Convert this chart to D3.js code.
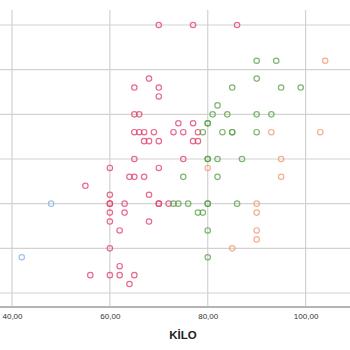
<!DOCTYPE html>
<html>
<head>
<meta charset="utf-8">
<script src="https://cdn.jsdelivr.net/npm/d3@7"></script>
<style>
  html, body { margin: 0; padding: 0; background: #fff; }
  svg { display: block; }
</style>
</head>
<body>
<script>
// Weight (kg) vs. height, one series per group colour
const pinkKilo = [70,77,86,68,65,70,70,65,66,74,77,65,66,67,69,73,75,78,67,68,70,77,78,65,75,60,70,55,64,65,67,60,68,60,60,63,70,70,72,60,63,60,68,62,60,62,56,60,62,65,64];
const pinkBoy  = [180,180,180,174,173,173,172,170,170,169,169,168,168,168,168,168,168,168,167,167,167,167,167,165,165,164,164,162,163,163,163,161,161,160,160,160,160,160,160,159,159,158,158,157,155,153,152,152,152,152,151];

const greenKilo = [90,94,90,85,95,99,82,81,84,90,93,80,80,79,83,85,85,90,80,80,82,87,75,82,73,74,76,80,80,86,78,79,80,80];
const greenBoy  = [176,176,174,173,173,173,171,170,170,170,170,169,169,168,168,168,168,168,165,165,165,165,163,163,160,160,160,160,160,160,159,159,157,154];

const orangeKilo = [104,93,103,95,80,95,90,90,90,90,85];
const orangeBoy  = [176,168,168,165,164,163,160,159,157,156,155];

const blueKilo = [48,42];
const blueBoy  = [160,154];

const xTicks = [40, 60, 80, 100];
const yTicks = [150, 155, 160, 165, 170, 175, 180];
const xTitle = "KİLO";

const W = 350, H = 350;
const plot = { left: 0, right: 350, top: 10, bottom: 307 };

const svg = d3.select("body").append("svg")
  .attr("width", W).attr("height", H);

const x = d3.scaleLinear().domain([40, 100]).range([12, 305.6]);
const y = d3.scaleLinear().domain([150, 180]).range([293, 25]);

// grid
const grid = svg.append("g");
grid.selectAll("line.h").data(yTicks).join("line")
  .attr("x1", plot.left).attr("x2", plot.right)
  .attr("y1", d => y(d)).attr("y2", d => y(d))
  .attr("stroke", "#d2d2d2").attr("stroke-width", 1.2);
grid.selectAll("line.v").data(xTicks).join("line")
  .attr("y1", plot.top).attr("y2", plot.bottom)
  .attr("x1", d => x(d)).attr("x2", d => x(d))
  .attr("stroke", "#d2d2d2").attr("stroke-width", 1.2);

// x axis
const xAxis = d3.axisBottom(x)
  .tickValues(xTicks)
  .tickSize(0)
  .tickPadding(6)
  .tickFormat(d => d3.format(".2f")(d).replace(".", ","));
const ax = svg.append("g")
  .attr("transform", `translate(0,${plot.bottom})`)
  .call(xAxis);
ax.select(".domain").remove();
ax.selectAll("text")
  .attr("font-family", "Liberation Sans, Arial, sans-serif")
  .attr("font-size", 8)
  .attr("fill", "#333");
svg.append("line")
  .attr("x1", plot.left).attr("x2", plot.right)
  .attr("y1", plot.bottom).attr("y2", plot.bottom)
  .attr("stroke", "#b4b4b4").attr("stroke-width", 2);

svg.append("text")
  .attr("x", 183).attr("y", 339)
  .attr("text-anchor", "middle")
  .attr("font-family", "Liberation Sans, Arial, sans-serif")
  .attr("font-weight", "bold")
  .attr("font-size", 11.5)
  .attr("fill", "#222")
  .text(xTitle);

// points
const series = [
  { k: pinkKilo,   b: pinkBoy,   c: "#e2456f" },
  { k: greenKilo,  b: greenBoy,  c: "#5fa34e" },
  { k: orangeKilo, b: orangeBoy, c: "#f29a72" },
  { k: blueKilo,   b: blueBoy,   c: "#8ab4e6" }
];
series.forEach(s => {
  const pts = s.k.map((v, i) => [v, s.b[i]]);
  svg.append("g").selectAll("circle").data(pts).join("circle")
    .attr("cx", d => x(d[0]))
    .attr("cy", d => y(d[1]))
    .attr("r", 2.7)
    .attr("fill", "none")
    .attr("stroke", s.c)
    .attr("stroke-opacity", 0.8)
    .attr("stroke-width", 1.2);
});
</script>
</body>
</html>
